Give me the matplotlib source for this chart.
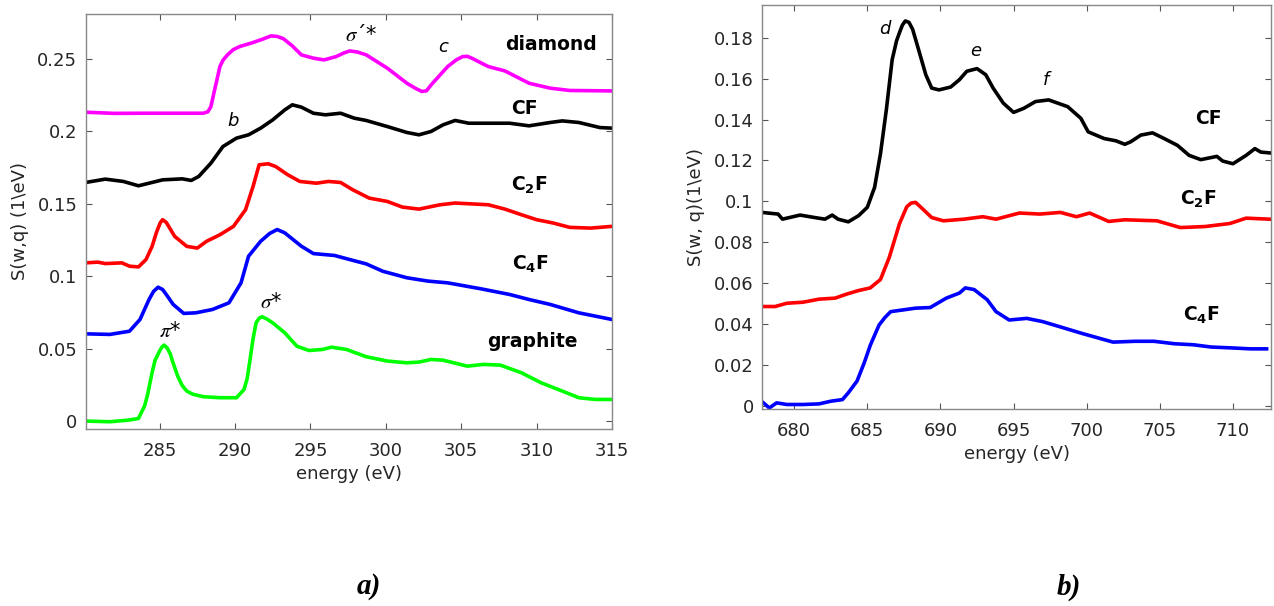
import matplotlib
matplotlib.use('Agg')
import matplotlib.pyplot as plt

# ---- panel a): carbon K edge ----
diamond_e = [280.1, 282.0, 284.0, 286.0, 287.9, 288.2, 288.4, 288.7, 289.0, 289.2, 289.5, 289.9, 290.3,
             291.1, 291.8, 292.4, 292.8, 293.2, 293.8, 294.4, 295.2, 295.9, 296.7, 297.2, 297.6, 298.1,
             298.7, 300.1, 301.4, 302.0, 302.4, 302.7, 303.0, 304.1, 304.7, 305.1, 305.4, 305.7, 306.8,
             307.9, 309.5, 310.9, 312.2, 315.0]
diamond_s = [0.2132, 0.2124, 0.2125, 0.2125, 0.2125, 0.2135, 0.217, 0.231, 0.2447, 0.249, 0.2528, 0.2565, 0.2585,
             0.261, 0.2635, 0.2659, 0.2655, 0.264, 0.259, 0.2528, 0.2505, 0.2493, 0.2516, 0.254, 0.2555, 0.2548,
             0.2528, 0.2436, 0.2332, 0.2295, 0.2275, 0.228, 0.232, 0.2447, 0.2495, 0.2516, 0.2518, 0.2505, 0.2447,
             0.2417, 0.2332, 0.2298, 0.2282, 0.2279]

cf_e = [280.1, 281.4, 282.6, 283.6, 285.2, 286.5, 287.1, 287.6, 288.4, 289.2, 290.1, 290.9, 291.7,
        292.5, 293.3, 293.8, 294.4, 295.2, 296.0, 297.0, 297.9, 298.7, 300.1, 301.4, 302.2, 303.0,
        303.8, 304.6, 305.5, 306.8, 308.2, 309.5, 310.9, 311.7, 312.8, 314.2, 315.0]
cf_s = [0.1647, 0.167, 0.1654, 0.1624, 0.1665, 0.1672, 0.1661, 0.1689, 0.178, 0.1895, 0.1953, 0.1976, 0.2022,
        0.2079, 0.2148, 0.2183, 0.2167, 0.2125, 0.2114, 0.2125, 0.2091, 0.2075, 0.2033, 0.1992, 0.1976, 0.1999,
        0.2045, 0.2075, 0.2056, 0.2056, 0.2056, 0.2038, 0.2061, 0.2072, 0.2061, 0.2026, 0.2022]

c2f_e = [280.1, 280.9, 281.4, 282.5, 283.0, 283.6, 284.1, 284.5, 284.8, 285.05, 285.2, 285.45, 286.0, 286.8,
         287.5, 288.1, 289.0, 289.9, 290.7, 291.2, 291.6, 292.2, 292.7, 293.5, 294.3, 295.4, 296.2, 297.0,
         297.8, 298.9, 300.1, 301.1, 302.2, 303.6, 304.6, 305.5, 306.8, 307.9, 309.0, 310.0, 311.1, 312.2,
         313.6, 315.0]
c2f_s = [0.1092, 0.1097, 0.1087, 0.1092, 0.1069, 0.1064, 0.1115, 0.1205, 0.1305, 0.137, 0.139, 0.137, 0.1275,
         0.1206, 0.1194, 0.124, 0.1286, 0.1344, 0.1459, 0.162, 0.1769, 0.1776, 0.1757, 0.17, 0.1654, 0.1642,
         0.1654, 0.1647, 0.1597, 0.1539, 0.1516, 0.1477, 0.1463, 0.1493, 0.1505, 0.15, 0.1493, 0.1463, 0.1424,
         0.139, 0.1367, 0.1337, 0.1332, 0.1344]

c4f_e = [280.1, 281.7, 283.0, 283.7, 284.3, 284.6, 284.9, 285.2, 285.5, 285.9, 286.6, 287.4, 288.5, 289.6,
         290.4, 290.9, 291.7, 292.3, 292.8, 293.3, 294.4, 295.2, 296.6, 297.6, 298.7, 299.8, 301.4, 302.8,
         304.1, 306.3, 308.2, 309.5, 310.9, 312.8, 315.0]
c4f_s = [0.0602, 0.0598, 0.062, 0.0701, 0.0839, 0.0895, 0.0924, 0.0908, 0.0865, 0.0805, 0.0743, 0.0747, 0.077,
         0.0816, 0.0954, 0.1138, 0.1241, 0.1295, 0.1322, 0.1299, 0.1207, 0.1156, 0.1143, 0.1115, 0.1085, 0.1034,
         0.0989, 0.0966, 0.0954, 0.0913, 0.0874, 0.0839, 0.0805, 0.0747, 0.0701]

graphite_e = [280.1, 281.7, 283.0, 283.6, 284.0, 284.2, 284.5, 284.7, 285.0, 285.15, 285.3, 285.5, 285.7,
              285.9, 286.2, 286.5, 286.8, 287.2, 287.9, 289.0, 290.1, 290.6, 290.8, 291.0, 291.2, 291.4,
              291.6, 291.8, 292.1, 292.5, 293.3, 294.1, 294.9, 295.8, 296.4, 297.4, 298.7, 300.1, 301.4,
              302.2, 303.0, 303.8, 305.4, 306.5, 307.6, 309.0, 310.3, 311.7, 312.8, 313.9, 315.0]
graphite_s = [0.0, -0.0005, 0.0007, 0.0018, 0.0103, 0.018, 0.0333, 0.042, 0.0483, 0.051, 0.0524, 0.0505, 0.0465,
              0.040, 0.031, 0.0245, 0.0207, 0.0185, 0.0168, 0.0161, 0.0161, 0.0218, 0.029, 0.0425, 0.057, 0.0678,
              0.071, 0.072, 0.0705, 0.0678, 0.0609, 0.0517, 0.0487, 0.0494, 0.051, 0.0494, 0.0444, 0.0414, 0.0402,
              0.0407, 0.0425, 0.042, 0.0379, 0.0391, 0.0386, 0.0333, 0.0264, 0.0207, 0.0161, 0.0149, 0.0149]

# ---- panel b): fluorine K edge ----
cf_f_e = [677.8, 678.9, 679.2, 680.4, 681.4, 682.1, 682.6, 683.0, 683.7, 684.4, 685.0, 685.5, 685.9,
          686.3, 686.7, 687.0, 687.2, 687.4, 687.6, 687.85, 688.1, 688.5, 689.0, 689.4, 689.9, 690.7,
          691.3, 691.8, 692.5, 693.1, 693.6, 694.3, 695.0, 695.7, 696.5, 697.4, 698.7, 699.6, 700.1,
          701.2, 702.0, 702.6, 703.0, 703.7, 704.5, 705.3, 706.2, 707.0, 707.8, 708.9, 709.3, 710.0,
          710.9, 711.5, 711.9, 712.5]
cf_f_s = [0.0946, 0.0938, 0.0913, 0.0933, 0.0921, 0.0913, 0.0933, 0.0913, 0.09, 0.093, 0.0971, 0.1069, 0.1233,
          0.1447, 0.1693, 0.1785, 0.1825, 0.1862, 0.1882, 0.1875, 0.1841, 0.1743, 0.1619, 0.1554, 0.1545, 0.1559,
          0.1595, 0.1636, 0.1649, 0.1619, 0.1554, 0.148, 0.1435, 0.1455, 0.1488, 0.1496, 0.1463, 0.1406, 0.134,
          0.1307, 0.1296, 0.1279, 0.1291, 0.1324, 0.1335, 0.1307, 0.1274, 0.1225, 0.1204, 0.122, 0.1197, 0.1184,
          0.1225, 0.1258, 0.1241, 0.1237]

c2f_f_e = [677.9, 678.7, 679.5, 680.6, 681.7, 682.8, 683.6, 684.4, 685.2, 685.9, 686.5, 687.2, 687.7,
           688.0, 688.3, 688.8, 689.4, 690.2, 691.6, 692.9, 693.8, 695.4, 696.8, 698.2, 699.3, 700.2,
           701.5, 702.6, 704.8, 706.4, 708.1, 709.8, 710.9, 712.5]
c2f_f_s = [0.0486, 0.0486, 0.0502, 0.0507, 0.0522, 0.0527, 0.0547, 0.0564, 0.0577, 0.0618, 0.0726, 0.0891, 0.0974,
           0.0992, 0.0995, 0.0962, 0.0921, 0.0905, 0.0913, 0.0925, 0.0913, 0.0943, 0.0938, 0.0946, 0.0925, 0.0943,
           0.0902, 0.091, 0.0905, 0.0872, 0.0877, 0.0892, 0.0918, 0.0913]

c4f_f_e = [677.9, 678.3, 678.8, 679.5, 680.6, 681.7, 682.5, 683.3, 683.7, 684.3, 684.8, 685.2, 685.8,
           686.2, 686.6, 687.4, 688.3, 689.3, 690.4, 691.3, 691.7, 692.3, 693.2, 693.8, 694.7, 695.9,
           697.0, 698.4, 699.7, 700.8, 701.8, 703.3, 704.6, 706.0, 707.3, 708.5, 710.1, 711.2, 712.3]
c4f_f_s = [0.0015, -0.001, 0.0015, 0.0007, 0.0007, 0.001, 0.0023, 0.0031, 0.0064, 0.0122, 0.0213, 0.0296, 0.0395,
           0.0432, 0.0461, 0.0469, 0.0478, 0.0481, 0.0527, 0.0552, 0.0577, 0.0569, 0.0519, 0.0461, 0.042, 0.0428,
           0.0412, 0.0382, 0.0354, 0.0332, 0.0312, 0.0316, 0.0316, 0.0304, 0.0299, 0.0288, 0.0283, 0.0279, 0.0279]

plt.rcParams.update({
    'font.family': 'DejaVu Sans', 'font.size': 13,
    'axes.edgecolor': '#888888', 'axes.linewidth': 1.0,
    'xtick.direction': 'in', 'ytick.direction': 'in',
    'xtick.top': True, 'ytick.right': True,
    'xtick.color': '#555555', 'ytick.color': '#555555',
    'xtick.labelcolor': '#262626', 'ytick.labelcolor': '#262626',
    'xtick.major.size': 4, 'ytick.major.size': 4,
    'xtick.major.pad': 9, 'ytick.major.pad': 6,
    'mathtext.fontset': 'dejavusans',
})

W, H = 1274, 606
fig = plt.figure(figsize=(W / 100, H / 100), dpi=100)
ax1 = fig.add_axes([85.7 / W, 1 - 429 / H, (612 - 85.7) / W, (429 - 14) / H])
ax2 = fig.add_axes([762 / W, 1 - 409 / H, (1271 - 762) / W, (409 - 5) / H])

lw = 2.6
ax1.plot(diamond_e, diamond_s, color='#ff00ff', lw=lw)
ax1.plot(cf_e, cf_s, color='black', lw=lw)
ax1.plot(c2f_e, c2f_s, color='red', lw=lw)
ax1.plot(c4f_e, c4f_s, color='blue', lw=lw)
ax1.plot(graphite_e, graphite_s, color='#00ff00', lw=lw)
ax1.set_xlim(280.1, 315)
ax1.set_ylim(-0.0055, 0.281)
ax1.set_xticks([285, 290, 295, 300, 305, 310, 315])
ax1.set_yticks([0, 0.05, 0.1, 0.15, 0.2, 0.25])
ax1.set_yticklabels(['0', '0.05', '0.1', '0.15', '0.2', '0.25'])
ax1.set_xlabel('energy (eV)', color='#262626', labelpad=4)
ax1.set_ylabel(r'S(w,q) (1\eV)', color='#262626', labelpad=6)

bold = dict(fontsize=13.5, fontweight='bold', ha='left', va='center')
ax1.text(307.9, 0.2601, 'diamond', **bold)
ax1.text(308.3, 0.216, 'CF', **bold)
ax1.text(308.3, 0.163, r'$\mathbf{C_2F}$', **bold)
ax1.text(308.4, 0.108, r'$\mathbf{C_4F}$', **bold)
ax1.text(306.7, 0.0552, 'graphite', **bold)
ital = dict(fontsize=13, style='italic', ha='center', va='center')
ax1.text(289.9, 0.2068, 'b', **ital)
ax1.text(303.8, 0.258, 'c', **ital)
greek = dict(fontsize=15, ha='center', va='center', math_fontfamily='stix')
ax1.text(298.4, 0.2666, r"$\sigma$´*", **greek)
ax1.text(285.7, 0.062, r'$\pi$*', **greek)
ax1.text(292.4, 0.082, r'$\sigma$*', **greek)

ax2.plot(cf_f_e, cf_f_s, color='black', lw=lw)
ax2.plot(c2f_f_e, c2f_f_s, color='red', lw=lw)
ax2.plot(c4f_f_e, c4f_f_s, color='blue', lw=lw)
ax2.set_xlim(677.8, 712.6)
ax2.set_ylim(-0.0015, 0.196)
ax2.set_xticks([680, 685, 690, 695, 700, 705, 710])
ax2.set_yticks([0, 0.02, 0.04, 0.06, 0.08, 0.1, 0.12, 0.14, 0.16, 0.18])
ax2.set_yticklabels(['0', '0.02', '0.04', '0.06', '0.08', '0.1', '0.12', '0.14', '0.16', '0.18'])
ax2.set_xlabel('energy (eV)', color='#262626', labelpad=4)
ax2.set_ylabel(r'S(w, q)(1\eV)', color='#262626', labelpad=6)

ax2.text(707.4, 0.1406, 'CF', **bold)
ax2.text(706.4, 0.1012, r'$\mathbf{C_2F}$', **bold)
ax2.text(706.6, 0.0445, r'$\mathbf{C_4F}$', **bold)
ax2.text(686.2, 0.1841, 'd', **ital)
ax2.text(692.4, 0.1734, 'e', **ital)
ax2.text(697.2, 0.1595, 'f', **ital)

panel = dict(fontsize=21, fontweight='bold', style='italic', family='Liberation Serif',
             ha='center', va='center')
fig.text(369 / W, 1 - 587 / H, 'a)', **panel)
fig.text(1069 / W, 1 - 587 / H, 'b)', **panel)

fig.savefig('out.png', dpi=100)
